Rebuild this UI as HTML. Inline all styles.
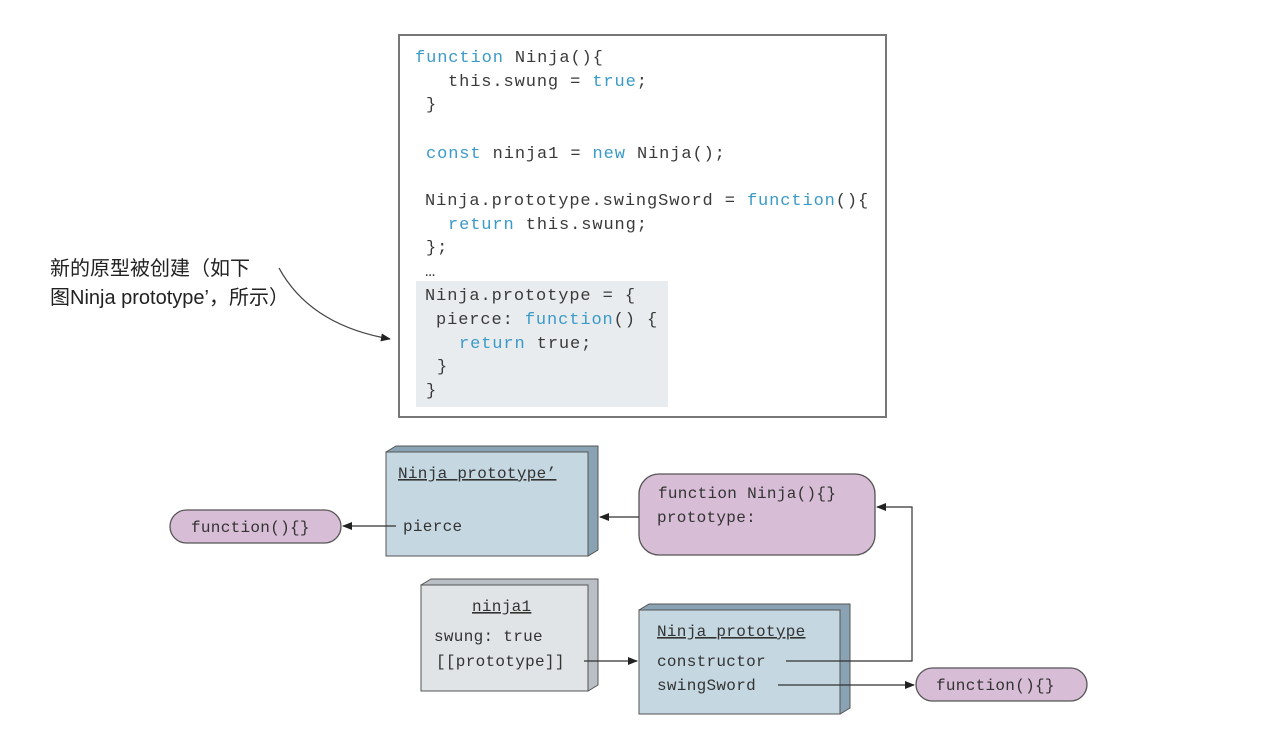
<!DOCTYPE html>
<html><head><meta charset="utf-8"><style>
html,body{margin:0;padding:0;background:#fff;}
svg{display:block;}
.c{font-family:"Liberation Mono",monospace;font-size:17px;letter-spacing:0.9px;fill:#3a3a3a;}
.k{fill:#3a9ac8;}
.d{font-family:"Liberation Mono",monospace;font-size:16px;letter-spacing:0.3px;fill:#333;}
.zh{font-family:"Liberation Sans","Noto Sans CJK SC",sans-serif;font-size:20px;fill:#222;}
</style></head><body>
<svg width="1280" height="730" viewBox="0 0 1280 730" xmlns="http://www.w3.org/2000/svg">
<defs><marker id="a" markerWidth="10" markerHeight="8" refX="9" refY="4" orient="auto" markerUnits="userSpaceOnUse"><path d="M0,0 L10,4 L0,8 Z" fill="#222"/></marker></defs>
<rect x="399" y="35" width="487" height="382" fill="#fff" stroke="#777" stroke-width="2"/>
<rect x="416" y="281" width="252" height="126" fill="#e9ecef"/>
<text class="c" x="415" y="62"><tspan class="k">function</tspan> Ninja(){</text>
<text class="c" x="448" y="86">this.swung = <tspan class="k">true</tspan>;</text>
<text class="c" x="426" y="109">}</text>
<text class="c" x="426" y="158"><tspan class="k">const</tspan> ninja1 = <tspan class="k">new</tspan> Ninja();</text>
<text class="c" x="425" y="205">Ninja.prototype.swingSword = <tspan class="k">function</tspan>(){</text>
<text class="c" x="448" y="229"><tspan class="k">return</tspan> this.swung;</text>
<text class="c" x="426" y="252">};</text>
<text class="c" x="425" y="276">…</text>
<text class="c" x="425" y="300">Ninja.prototype = {</text>
<text class="c" x="436" y="324">pierce: <tspan class="k">function</tspan>() {</text>
<text class="c" x="459" y="348"><tspan class="k">return</tspan> true;</text>
<text class="c" x="437" y="371">}</text>
<text class="c" x="426" y="395">}</text>

<text class="zh" x="50" y="275">新的原型被创建（如下</text>
<text class="zh" x="50" y="304">图Ninja prototype’，所示）</text>
<path d="M279,268 Q310,325 390,339" fill="none" stroke="#444" stroke-width="1.3" marker-end="url(#a)"/>

<path d="M386,452 L396,446 L598,446 L598,550 L588,556 Z" fill="#8aa3b4" stroke="#555"/>
<rect x="386" y="452" width="202" height="104" fill="#c5d7e1" stroke="#555"/>
<text class="d" x="398" y="478" text-decoration="underline">Ninja prototype’</text>
<text class="d" x="403" y="531">pierce</text>

<rect x="639" y="474" width="236" height="81" rx="20" fill="#d8bdd6" stroke="#555" stroke-width="1.3"/>
<text class="d" x="658" y="498">function Ninja(){}</text>
<text class="d" x="657" y="522">prototype:</text>

<rect x="170" y="510" width="171" height="33" rx="16.5" fill="#d8bdd6" stroke="#555" stroke-width="1.3"/>
<text class="d" x="191" y="532">function(){}</text>

<path d="M421,585 L431,579 L598,579 L598,685 L588,691 Z" fill="#b9bfc4" stroke="#555"/>
<rect x="421" y="585" width="167" height="106" fill="#e1e4e7" stroke="#555"/>
<text class="d" x="472" y="611" text-decoration="underline">ninja1</text>
<text class="d" x="434" y="641">swung: true</text>
<text class="d" x="436" y="666">[[prototype]]</text>

<path d="M639,610 L649,604 L850,604 L850,708 L840,714 Z" fill="#8aa3b4" stroke="#555"/>
<rect x="639" y="610" width="201" height="104" fill="#c5d7e1" stroke="#555"/>
<text class="d" x="657" y="636" text-decoration="underline">Ninja prototype</text>
<text class="d" x="657" y="666">constructor</text>
<text class="d" x="657" y="690">swingSword</text>

<rect x="916" y="668" width="171" height="33" rx="16.5" fill="#d8bdd6" stroke="#555" stroke-width="1.3"/>
<text class="d" x="936" y="690">function(){}</text>

<line x1="639" y1="517" x2="600" y2="517" stroke="#333" stroke-width="1.2" marker-end="url(#a)"/>
<line x1="396" y1="526" x2="343" y2="526" stroke="#333" stroke-width="1.2" marker-end="url(#a)"/>
<line x1="584" y1="661" x2="637" y2="661" stroke="#333" stroke-width="1.2" marker-end="url(#a)"/>
<path d="M786,661 L912,661 L912,507 L877,507" fill="none" stroke="#333" stroke-width="1.2" marker-end="url(#a)"/>
<line x1="778" y1="685" x2="914" y2="685" stroke="#333" stroke-width="1.2" marker-end="url(#a)"/>
</svg>
</body></html>
